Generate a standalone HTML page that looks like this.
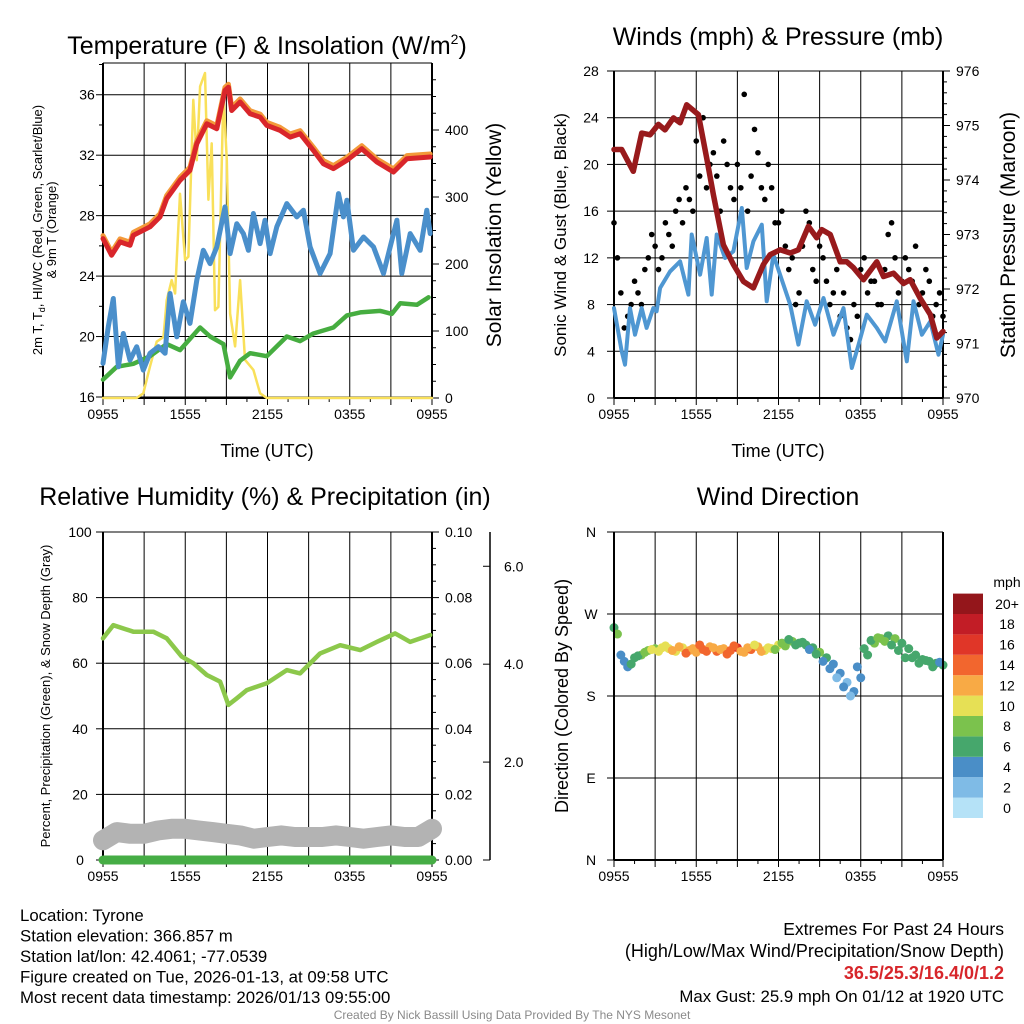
<!DOCTYPE html>
<html><head><meta charset="utf-8"><style>
body{margin:0;background:#fff;font-family:"Liberation Sans",sans-serif;}
svg{display:block}
</style></head><body>
<svg id="c" width="1024" height="1024" xmlns="http://www.w3.org/2000/svg" font-family="Liberation Sans, sans-serif"></svg>
<script>
// ---- data ----
const xTickLabels=["0955","1555","2155","0355","0955"];
const tempHours=[0,0.63,1.24,1.97,2.21,3.43,4.16,4.65,5.62,6.35,6.84,7.57,8.3,8.9,9.15,9.39,10,10.73,11.46,11.95,12.92,13.65,14.38,15.35,16.08,16.81,17.79,18.88,19.98,21.19,22.17,23.87];
const temp2m=[26.48,25.38,26.26,26.04,26.7,27.26,27.92,29.13,30.34,31,32.76,34.08,33.75,36.29,36.5,34.96,35.52,34.74,34.52,33.97,33.64,33.2,33.42,32.32,31.44,31.11,31.66,32.43,31.55,30.89,31.77,31.88];
const hiHours=[0,.39,.75,1.12,1.48,1.97,2.46,2.94,3.43,4.04,4.53,4.89,5.38,5.86,6.35,6.84,7.32,7.81,8.3,8.9,9.27,9.76,10.24,10.61,10.97,11.46,11.82,12.19,12.68,13.41,14.14,14.62,15.11,15.84,16.57,17.18,17.54,17.79,18.27,19,19.73,20.46,20.95,21.44,21.8,22.41,23.14,23.62,23.87];
const hiwc=[18.22,20.65,22.52,18,20.2,18.44,19.33,17.78,18.89,19.33,18.89,22.85,19.98,22.3,20.87,23.73,25.71,24.83,25.93,28.58,25.49,27.47,26.81,25.71,28.14,26.15,27.7,25.49,27.26,28.8,27.92,28.36,25.93,24.17,25.49,29.46,27.92,29.02,25.71,26.59,25.93,24.17,25.93,27.7,24.17,26.81,25.71,28.36,26.81];
const dewHours=[0,1,2.21,3.43,4.65,5.62,7.08,7.81,8.78,9.27,10,10.73,11.95,13.41,14.38,15.35,16.81,17.79,18.76,20.22,21.07,21.68,22.9,23.75];
const dewpt=[17.15,18,18.2,18.7,19.5,19.1,20.6,20,19.5,17.3,18.4,18.9,18.7,20,19.7,20.2,20.6,21.4,21.6,21.7,21.5,22.2,22.1,22.6];
const insHours=[0,2.46,2.94,3.43,3.92,4.41,4.65,5.01,5.26,5.62,5.99,6.23,6.59,6.84,7.08,7.44,7.69,7.93,8.17,8.42,8.78,9.03,9.27,9.64,10,10.36,10.97,11.46,11.95,24];
const insol=[0,0,7,47,84,91,146,176,156,305,206,211,445,355,465,485,296,380,131,136,455,355,126,77,176,57,42,7,0,0];
const tempTicks=[16,20,24,28,32,36];
const insTicks=[0,100,200,300,400];
const presHours=[0,.56,1.41,2.02,2.63,3.24,3.72,4.33,4.82,5.3,6.16,6.76,7.25,7.98,8.71,9.44,10.17,10.9,11.39,12.12,12.85,13.45,14.18,14.79,15.16,15.77,16.5,16.98,17.47,18.2,19.17,19.66,20.39,21.12,21.61,22.34,23.07,23.55,24];
const pressure=[974.56,974.56,974.16,974.86,974.83,975.02,974.92,975.14,975.05,975.38,975.2,974.4,973.73,972.81,972.45,972.14,972.02,972.45,972.63,972.72,972.66,972.72,973.15,972.94,973.09,973,972.5,972.5,972.39,972.17,972.5,972.23,972.29,972.1,972.17,971.83,971.53,971.1,971.22];
const windHours=[0,.56,.8,1.17,1.53,2.02,2.38,2.87,3.11,3.36,4.09,4.82,5.43,5.67,6.28,6.76,7.13,7.49,8.1,8.71,9.32,9.68,10.17,10.78,11.14,11.63,12.12,12.85,13.45,14.06,14.67,15.28,16.01,16.74,17.35,17.84,18.44,19.17,19.78,20.63,21.36,21.85,22.46,23.07,23.67,24];
const wind=[7.7,4,2.85,7.7,5.42,7.7,6,7.7,7.42,9.42,10.84,11.7,8.85,14,10.56,13.7,8.85,14,11.99,12.56,16.27,11.13,13.41,14.84,8.28,12.27,10.56,7.99,4.57,8.28,6.28,8.56,5.42,7.7,2.57,4.57,7.13,6,4.85,8.28,3.14,8.28,5.42,6.56,3.71,5.42];
const gustA=[15,9,7,10,8,12,13,12,14,16,15,17,22,24,20,19,22,18,20,26,19,21,17,18,15,13,12,9,16,11,13,10,9,7,6,8,11,9,10,8,14,12,10,11,13,9,10,8,7];
const gustB=[12,6,8,9,11,14,11,15,13,17,18,16,19,18,21,16,20,17,18,16,23,18,20,15,16,11,8,13,15,10,12,8,11,9,5,7,12,10,8,11,15,9,12,10,8,11,7,9];
const windTicks=[0,4,8,12,16,20,24,28];
const presTicks=[970,971,972,973,974,975,976];
const rhHours=[0,.75,2.21,3.67,4.65,5.74,6.59,7.57,8.54,9.15,9.76,10.49,11.95,13.41,14.38,15.84,17.3,18.76,19.98,21.31,22.41,23.87];
const rh=[67.6,71.6,69.6,69.6,67.6,62,60,56.4,54.4,47.3,49.3,51.8,53.9,57.9,56.9,63,65.5,64,66.5,69.1,66.5,68.6];
const snowPct=[6,8.5,8,8,9,9.5,9.5,9,8.5,8,7.5,6.5,7,7.5,7,7,7,7.5,7,6.5,7,7.5,7,7,9.5];
const rhTicks=[0,20,40,60,80,100];
const precipTicks=["0.00","0.02","0.04","0.06","0.08","0.10"];
const snowTicks=[2,4,6];
const wdir=[255,225,212,222,225,230,232,233,232,229,233,230,228,231,234,229,232,230,233,228,231,234,230,232,236,235,240,238,236,233,228,222,215,205,195,185,200,225,238,243,246,243,238,232,225,220,218,216,214];
const wspd=[6,4,3,5,7,8,8,9,10,10,9,11,12,13,12,14,11,13,15,12,13,12,10,9,9,8,7,6,5,6,7,5,4,3,2,3,4,6,7,7,6,7,6,5,6,5,6,6,5];
const wdir2=[248,218,215,224,228,231,229,235,230,234,227,232,236,229,233,231,226,235,229,233,236,229,233,231,238,242,236,239,231,226,218,210,200,190,180,212,232,241,244,240,236,230,222,222,216,219,212,217];
const wspd2=[7,3,5,6,8,9,10,9,11,12,13,12,14,13,12,12,14,13,11,12,10,11,9,8,7,6,5,6,4,5,4,3,2,3,2,4,5,6,7,8,6,5,6,6,5,6,5,4];
const dirLabels=["N","E","S","W","N"];
const cbLabels=["0","2","4","6","8","10","12","14","16","18","20+"];
const cbColors=["#b5e2f7","#7fbbe6","#4a8ec7","#46a76c","#7bc24d","#e6e055","#f8aa45","#f2662e","#e03628","#c21d26","#94161b"];

// ---- drawing ----
const S=document.getElementById('c');const NS="http://www.w3.org/2000/svg";
function el(t,a,p){const e=document.createElementNS(NS,t);for(const k in a)e.setAttribute(k,a[k]);(p||S).appendChild(e);return e;}
function txt(x,y,s,size,anchor,extra){const e=el('text',Object.assign({x:x,y:y,'font-size':size,'text-anchor':anchor||'middle',fill:'#000'},extra||{}));e.textContent=s;return e;}
function lin(d0,d1,r0,r1){return v=>r0+(v-d0)/(d1-d0)*(r1-r0);}
function path(xs,ys,attrs,name){let d='';xs.forEach((x,i)=>{d+=(i?'L':'M')+x.toFixed(1)+' '+ys[i].toFixed(1);});const p=el('path',Object.assign({d:d,fill:'none','stroke-linejoin':'round','stroke-linecap':'round'},attrs));

return p;}
function frame(L,T,R,B,name){const g=el('g',{});


const X=lin(0,24,L,R);
for(let h=0;h<=24;h+=3){el('line',{x1:X(h),x2:X(h),y1:T,y2:B,stroke:'#000','stroke-width':1},g);}
for(let h=0;h<=24;h+=1.5){el('line',{x1:X(h),x2:X(h),y1:B,y2:B+(h%3==0?7:4),stroke:'#000'},g);}
xTickLabels.forEach((s,i)=>{const t=txt(X(i*6),B+21,s,14);});
return {g:g,X:X};}
function hgrid(g,L,R,Y,ticks){ticks.forEach(v=>{el('line',{x1:L,x2:R,y1:Y(v),y2:Y(v),stroke:'#000'},g);el('line',{x1:L-7,x2:L,y1:Y(v),y2:Y(v),stroke:'#000'},g);});}
function border(g,L,T,R,B){el('line',{x1:L,x2:L,y1:T,y2:B,stroke:'#000','stroke-width':2},g);el('line',{x1:R,x2:R,y1:T,y2:B,stroke:'#000','stroke-width':2},g);el('line',{x1:L,x2:R,y1:B,y2:B,stroke:'#000','stroke-width':2},g);el('line',{x1:L,x2:R,y1:T,y2:T,stroke:'#000','stroke-width':1},g);}
const step=(n)=>Array.from({length:n},(_,i)=>i*24/(n-1));

// Panel 1
(function(){const L=103,T=63,R=432,B=398;const f=frame(L,T,R,B,'temperature-panel');const g=f.g,X=f.X;
const Y=lin(16,38.1,397,63);const YI=lin(0,500,398,63);
hgrid(g,L,R,Y,tempTicks);
for(let v=18;v<=38;v+=4){el('line',{x1:L-4,x2:L,y1:Y(v),y2:Y(v),stroke:'#000'},g);}
tempTicks.forEach(v=>txt(L-16,Y(v)+5,String(v),14));
insTicks.forEach(v=>{el('line',{x1:R,x2:R+7,y1:YI(v),y2:YI(v),stroke:'#000'},g);txt(R+13,YI(v)+5,String(v),14,'start');});
for(let v=25;v<=475;v+=25){if(v%100)el('line',{x1:R,x2:R+4,y1:YI(v),y2:YI(v),stroke:'#000'},g);}
path(insHours.map(X),insol.map(YI),{stroke:'#f9e05a','stroke-width':2.5},'insolation-line');
path(dewHours.map(X),dewpt.map(Y),{stroke:'#46ad40','stroke-width':4.5},'dewpoint-line');
path(hiHours.map(X),hiwc.map(Y),{stroke:'#4a8fcb','stroke-width':5},'heat-index-line');
path(tempHours.map(X),temp2m.map(v=>Y(v+0.2)),{stroke:'#f39a3a','stroke-width':5},'temp-9m-line');
path(tempHours.map(X),temp2m.map(Y),{stroke:'#d9262b','stroke-width':5},'temp-2m-line');
border(g,L,T,R,B);
const t=txt(267,54,'Temperature (F) & Insolation (W/m',25);const ts=el('tspan',{'font-size':14,dy:-10},t);ts.textContent='2';const te=el('tspan',{dy:10},t);te.textContent=')';

txt(267,457,'Time (UTC)',18);
const yl=txt(0,0,'',13,'middle',{transform:'translate(42,230) rotate(-90)'});
const a=el('tspan',{x:0,dy:0},yl);a.textContent='2m T, T';const b=el('tspan',{'font-size':9,dy:3},yl);b.textContent='d';const c=el('tspan',{dy:-3},yl);c.textContent=', HI/WC (Red, Green, Scarlet/Blue)';
const d=el('tspan',{x:0,dy:14},yl);d.textContent='& 9m T (Orange)';
txt(0,0,'Solar Insolation (Yellow)',21,'middle',{transform:'translate(501,235) rotate(-90)'});
})();

// Panel 2
(function(){const L=614,T=71,R=943,B=398;const f=frame(L,T,R,B,'winds-panel');const g=f.g,X=f.X;
const Y=lin(0,28,398,71);const YP=lin(970,976,398,71);
hgrid(g,L,R,Y,windTicks);
windTicks.forEach(v=>txt(L-23,Y(v)+5,String(v),14));
presTicks.forEach(v=>{el('line',{x1:R,x2:R+7,y1:YP(v),y2:YP(v),stroke:'#000'},g);txt(R+13,YP(v)+5,String(v),14,'start');});
for(let v=970.2;v<976;v+=0.2){el('line',{x1:R,x2:R+4,y1:YP(v),y2:YP(v),stroke:'#000'},g);}
path(windHours.map(X),wind.map(Y),{stroke:'#4f97d2','stroke-width':4},'wind-speed-line');
gustA.forEach((v,i)=>{const c=el('circle',{cx:X(i*0.5),cy:Y(v),r:2.8,fill:'#000'},g);});
gustB.forEach((v,i)=>{const c=el('circle',{cx:X(i*0.5+0.25),cy:Y(v),r:2.8,fill:'#000'},g);});
path(presHours.map(X),pressure.map(YP),{stroke:'#981a1c','stroke-width':5.5},'pressure-line');
border(g,L,T,R,B);
txt(778,45,'Winds (mph) & Pressure (mb)',25);
txt(778,457,'Time (UTC)',18);
txt(0,0,'Sonic Wind & Gust (Blue, Black)',17,'middle',{transform:'translate(566,235) rotate(-90)'});
txt(0,0,'Station Pressure (Maroon)',21,'middle',{transform:'translate(1015,235) rotate(-90)'});
})();

// Panel 3
(function(){const L=103,T=532,R=432,B=860;const f=frame(L,T,R,B,'humidity-panel');const g=f.g,X=f.X;
const Y=lin(0,100,860,532);
hgrid(g,L,R,Y,rhTicks);
rhTicks.forEach(v=>txt(L-23,Y(v)+5,String(v),14));
precipTicks.forEach((s,i)=>{const y=Y(i*20);el('line',{x1:R,x2:R+7,y1:y,y2:y,stroke:'#000'},g);txt(R+13,y+5,s,14,'start');});
for(let v=5;v<100;v+=5){if(v%20)el('line',{x1:R,x2:R+4,y1:Y(v),y2:Y(v),stroke:'#000'},g);}
const YS=lin(0,6.7,860,532);
el('line',{x1:490,x2:490,y1:532,y2:860,stroke:'#000','stroke-width':1.5},g);
snowTicks.forEach(v=>{el('line',{x1:490,x2:483,y1:YS(v),y2:YS(v),stroke:'#000'},g);txt(504,YS(v)+5,v.toFixed(1),14,'start');});
el('line',{x1:490,x2:483,y1:860,y2:860,stroke:'#000'},g);
path(step(snowPct.length).map(X),snowPct.map(Y),{stroke:'#b3b3b3','stroke-width':20},'snow-depth-line');
path([X(0),X(24)],[Y(0),Y(0)],{stroke:'#46ad45','stroke-width':9},'precipitation-line');
path(rhHours.map(X),rh.map(Y),{stroke:'#8cc84b','stroke-width':4.5},'rh-line');
el('circle',{cx:X(0.9),cy:Y(9),r:2.2,fill:'#8a2be2'},g);el('circle',{cx:X(23.8),cy:Y(9),r:2.2,fill:'#8a2be2'},g);
border(g,L,T,R,B);
txt(265,505,'Relative Humidity (%) & Precipitation (in)',25);
txt(0,0,'Percent, Precipitation (Green), & Snow Depth (Gray)',13,'middle',{transform:'translate(50,696) rotate(-90)'});
})();

// Panel 4
(function(){const L=614,T=532,R=943,B=860;const f=frame(L,T,R,B,'wind-direction-panel');const g=f.g,X=f.X;
const Y=lin(0,360,860,532);
hgrid(g,L,R,Y,[0,90,180,270,360]);
dirLabels.forEach((s,i)=>txt(L-23,Y(i*90)+5,s,14));
const col=v=>cbColors[Math.min(10,Math.round(v/2))];
wdir.forEach((d,i)=>{const c=el('circle',{cx:X(i*0.5),cy:Y(d),r:4.5,fill:col(wspd[i])},g);});
wdir2.forEach((d,i)=>{const c=el('circle',{cx:X(i*0.5+0.25),cy:Y(d),r:4.5,fill:col(wspd2[i])},g);});
border(g,L,T,R,B);
txt(778,505,'Wind Direction',25);
txt(0,0,'Direction (Colored By Speed)',18,'middle',{transform:'translate(568,696) rotate(-90)'});
const cb=el('g',{});
txt(1007,587,'mph',14,'middle');
const bh=20.4;cbColors.forEach((c,i)=>{const y=818-(i+1)*bh;el('rect',{x:953,y:y,width:30,height:bh,fill:c},cb);txt(1007,y+bh/2+5,cbLabels[i],14,'middle');});
})();

// Footer
const info=["Location: Tyrone","Station elevation: 366.857 m","Station lat/lon: 42.4061; -77.0539","Figure created on Tue, 2026-01-13, at 09:58 UTC","Most recent data timestamp: 2026/01/13 09:55:00"];
info.forEach((s,i)=>txt(20,921+i*20.5,s,16.8,'start'));
txt(1004,935,'Extremes For Past 24 Hours',17.5,'end');
txt(1004,957,'(High/Low/Max Wind/Precipitation/Snow Depth)',18,'end');
txt(1004,979,'36.5/25.3/16.4/0/1.2',18,'end',{fill:'#d7262b','font-weight':'bold'});
txt(1004,1002,'Max Gust: 25.9 mph On 01/12 at 1920 UTC',16.8,'end');
txt(512,1019,'Created By Nick Bassill Using Data Provided By The NYS Mesonet',12,'middle',{fill:'#8a8a8a'});
</script>
</body></html>
